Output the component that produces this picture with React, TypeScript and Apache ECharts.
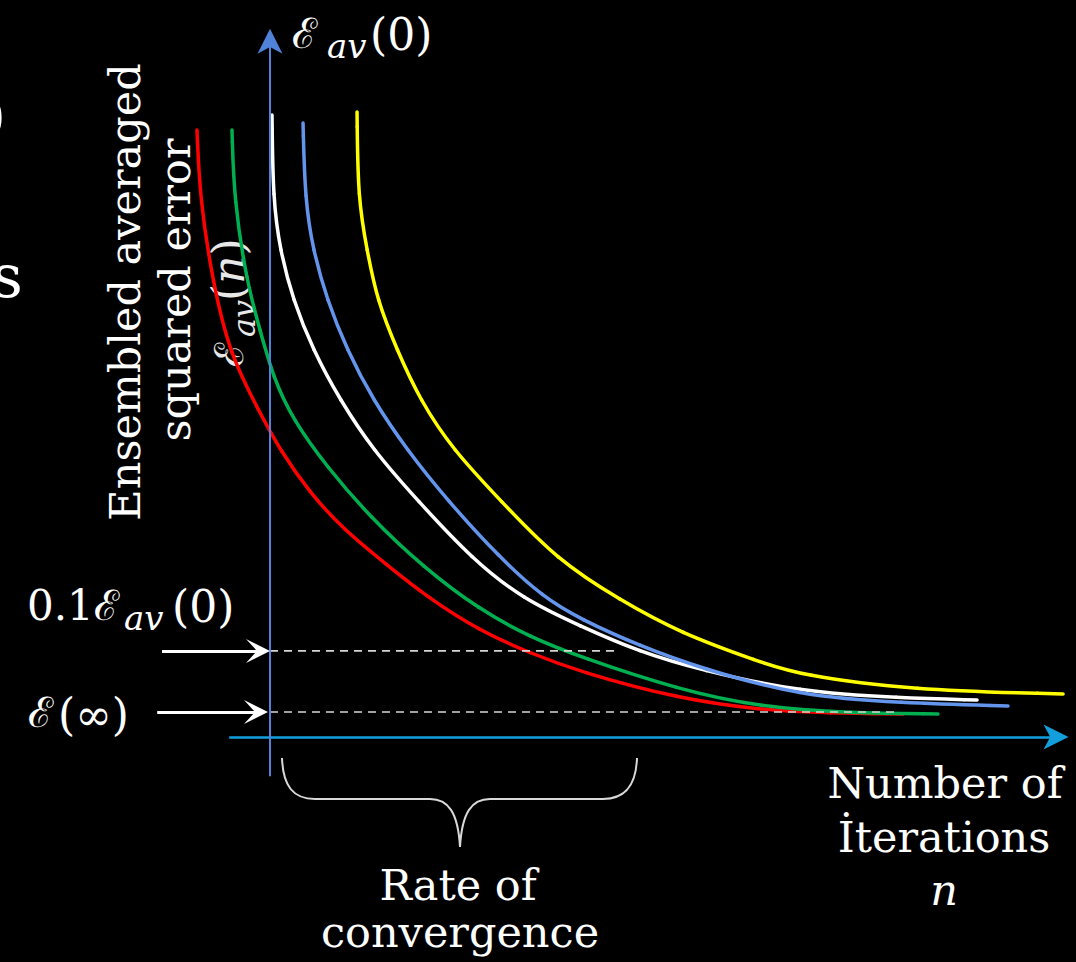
import React, { useEffect, useRef } from "react";
import * as echarts from "echarts";

// ---- data (iterations n, ensemble-averaged squared error) ----
const redN = [-9.13, -8.75, -7.13, -5, -1.25, 1.25, 5, 9.13, 14.63, 19.63, 26.25, 32.5, 38.75, 51.25, 61.25, 70, 79.13];
const redErr = [86.71, 76.71, 64.86, 54.57, 46.29, 41, 34.86, 29.71, 24.57, 20, 15.14, 12, 9.29, 5.43, 3.86, 3.43, 3.29];

const greenN = [-4.75, -4.5, -2.88, -1.25, 0.38, 2.88, 7.13, 12.5, 19.13, 26.25, 32.5, 38.75, 51.25, 61.25, 72.5, 83.5];
const greenErr = [86.71, 76.71, 64.86, 58.14, 51.43, 45.29, 38.57, 31.43, 24.29, 18.14, 14.29, 11.43, 6.71, 4.29, 3.43, 3.29];

const whiteN = [0.25, 0.38, 1.25, 2.88, 5.38, 8.75, 12.88, 18.38, 25.38, 31.63, 38.75, 46.25, 53.75, 66.25, 78.75, 88.38];
const whiteErr = [88.86, 76.71, 69.57, 62.43, 55.29, 48.14, 41, 33.86, 25.29, 19.71, 15.86, 12.14, 9.57, 6.43, 5.57, 5.29];

const blueN = [4.13, 4.38, 5.38, 7.13, 9.63, 12.88, 17.13, 22.13, 28.75, 34.13, 38.75, 46.25, 53.75, 66.25, 78.75, 92.25];
const blueErr = [87.71, 76.71, 69.57, 62.43, 55.29, 48.14, 41, 33.86, 25.57, 20, 16.86, 13, 9.86, 5.86, 4.86, 4.43];

const yellowN = [10.88, 11, 12.13, 13.38, 15.88, 18.75, 22.88, 28.75, 35.88, 43.75, 51.25, 61.25, 66.25, 80, 99.13];
const yellowErr = [89.29, 76.71, 69.57, 62.43, 55.29, 48.14, 41, 33.86, 25.29, 19.57, 14.86, 10.71, 8.86, 6.71, 6.14];

// reference levels: 0.1·Eav(0) and E(∞)
const levelValues = [12.3, 3.57];
const levelEnds = [43, 78.75];
// annotation arrows pointing at the levels (start n, end n)
const levelArrowStart = [-13.5, -14.1];
const levelArrowEnd = [-1.5, -1.75];

// axis extents
const xAxisExtent = [-5.1, 98.25];
const yAxisExtent = [-5.6, 99.4];

const braceD =
  "M282,758 C283,786 293,799 315,799 L430,799 C448,799 458,812 460,847 C462,812 472,799 490,799 L603,799 C625,799 636,786 637,758";
echarts.graphic.registerShape("brace", echarts.graphic.extendPath(braceD, {}));

const ARROW = "path://M10,0 L20,26 L10,19 L0,26 Z";
const ARROW_W = "path://M10,0 L20,24 L10,13 L0,24 Z";
const SERIF = '"DejaVu Serif", "Liberation Serif", serif';

function txt(text: string, x: number, y: number, size: number, opts: any = {}) {
  return {
    type: "text",
    x,
    y,
    rotation: opts.rotation || 0,
    silent: true,
    style: {
      text,
      fill: opts.fill || "#ffffff",
      fontSize: size,
      fontFamily: SERIF,
      fontStyle: opts.italic ? "italic" : "normal",
      textAlign: opts.align || "left",
      align: opts.align || "left",
      textVerticalAlign: "middle",
      verticalAlign: "middle",
      rich: opts.rich,
    },
  };
}

// a curve drawn as a smooth cubic B-spline through the mapped data points
function splineSeries(name: string, xs: number[], ys: number[], color: string) {
  return {
    name,
    type: "custom",
    silent: true,
    clip: false,
    z: 3,
    data: xs.map((x, i) => [x, ys[i]]),
    encode: { x: 0, y: 1 },
    renderItem: (params: any, api: any) => {
      if (params.dataIndex !== 0) return { type: "group", children: [] };
      const pts = xs.map((x, i) => api.coord([x, ys[i]]));
      const first = pts[0];
      const last = pts[pts.length - 1];
      const P = [first, first, ...pts, last, last];
      const children: any[] = [];
      for (let i = 0; i + 3 < P.length; i++) {
        const p0 = P[i], p1 = P[i + 1], p2 = P[i + 2], p3 = P[i + 3];
        children.push({
          type: "bezierCurve",
          shape: {
            x1: (p0[0] + 4 * p1[0] + p2[0]) / 6,
            y1: (p0[1] + 4 * p1[1] + p2[1]) / 6,
            cpx1: (2 * p1[0] + p2[0]) / 3,
            cpy1: (2 * p1[1] + p2[1]) / 3,
            cpx2: (p1[0] + 2 * p2[0]) / 3,
            cpy2: (p1[1] + 2 * p2[1]) / 3,
            x2: (p1[0] + 4 * p2[0] + p3[0]) / 6,
            y2: (p1[1] + 4 * p2[1] + p3[1]) / 6,
          },
          style: { stroke: color, fill: "none", lineWidth: 3.5, lineCap: "round" },
        });
      }
      return { type: "group", children };
    },
  };
}

export default function App() {
  const ref = useRef<HTMLDivElement>(null);
  useEffect(() => {
    if (!ref.current) return;
    const chart = echarts.init(ref.current, null, { renderer: "svg" });
    const parenRich = {
      p: { fontSize: 44, fontFamily: SERIF, fill: "#e8e8e8", color: "#e8e8e8" },
      i: { fontSize: 44, fontFamily: SERIF, fontStyle: "italic", fill: "#e8e8e8", color: "#e8e8e8" },
    };
    chart.setOption({
      animation: false,
      backgroundColor: "#000000",
      grid: { left: 110, top: 23, width: 960, height: 756 },
      xAxis: { type: "value", min: -20, max: 100, show: false },
      yAxis: { type: "value", min: -6, max: 102, show: false },
      series: [
        {
          name: "axes",
          type: "line",
          data: [],
          silent: true,
          z: 1,
          markLine: {
            silent: true,
            animation: false,
            symbol: ["none", ARROW],
            symbolSize: 25,
            label: { show: false },
            emphasis: { disabled: true },
            data: [
              [
                { coord: [xAxisExtent[0], 0], lineStyle: { color: "#129fdc", width: 2.5, type: "solid" } },
                { coord: [xAxisExtent[1], 0] },
              ],
              [
                { coord: [0, yAxisExtent[0]], lineStyle: { color: "#4f82d8", width: 2, type: "solid" } },
                { coord: [0, yAxisExtent[1]] },
              ],
            ],
          },
        },
        splineSeries("red", redN, redErr, "#ff0000"),
        splineSeries("green", greenN, greenErr, "#00b050"),
        splineSeries("white", whiteN, whiteErr, "#ffffff"),
        splineSeries("blue", blueN, blueErr, "#6495ed"),
        splineSeries("yellow", yellowN, yellowErr, "#ffff00"),
        ...levelValues.map((v, i) => ({
          name: "level" + i,
          type: "line",
          data: [
            [0, v],
            [levelEnds[i], v],
          ],
          showSymbol: false,
          silent: true,
          z: 4,
          lineStyle: { color: "#d6d6d6", width: 1.6, type: [8, 6] },
          markLine: {
            silent: true,
            animation: false,
            symbol: ["none", ARROW_W],
            symbolSize: 24,
            label: { show: false },
            emphasis: { disabled: true },
            data: [
              [
                { coord: [levelArrowStart[i], v], lineStyle: { color: "#ffffff", width: 3, type: "solid" } },
                { coord: [levelArrowEnd[i], v] },
              ],
            ],
          },
        })),
      ],
      graphic: [
        { type: "brace", x: 0, y: 0, silent: true, style: { stroke: "#d9d9d9", fill: "none", lineWidth: 2 } },
        // top label Eav(0)
        txt("ℰ", 292, 33, 42),
        txt("av", 327, 46, 34, { italic: true }),
        txt("(0)", 370, 34, 44),
        // 0.1 Eav(0)
        txt("0.1ℰ", 27, 605, 42),
        txt("av", 124, 618, 34, { italic: true }),
        txt("(0)", 172, 606, 44),
        // E(inf)
        txt("ℰ", 28, 712, 42),
        txt("(∞)", 58, 714, 44),
        // y axis title
        txt("Ensembled averaged", 125, 292, 43, { rotation: Math.PI / 2, align: "center" }),
        txt("squared error", 175, 290, 43, { rotation: Math.PI / 2, align: "center" }),
        {
          type: "group",
          x: 243,
          y: 367,
          rotation: Math.PI / 2,
          silent: true,
          children: [
            txt("ℰ", 0, -14, 40, { fill: "#e8e8e8" }),
            txt("av", 30, 1, 32, { italic: true, fill: "#e8e8e8" }),
            txt("{p|(}{i|n}{p|)}", 66, -15, 44, { fill: "#e8e8e8", rich: parenRich }),
          ],
        },
        // cropped glyphs at the left edge
        txt(")", -14, 116, 50),
        txt("s", -8, 276, 60),
        // rate of convergence
        txt("Rate of", 458, 885, 43, { align: "center" }),
        txt("convergence", 460, 932, 43, { align: "center" }),
        // x axis title
        txt("Number of", 945, 783, 43, { align: "center" }),
        txt("İterations", 944, 837, 43, { align: "center" }),
        txt("n", 944, 890, 43, { align: "center", italic: true }),
      ],
    });
    return () => chart.dispose();
  }, []);
  return (
    <div
      ref={ref}
      style={{ position: "fixed", left: 0, top: 0, width: 1076, height: 962, background: "#000" }}
    />
  );
}
